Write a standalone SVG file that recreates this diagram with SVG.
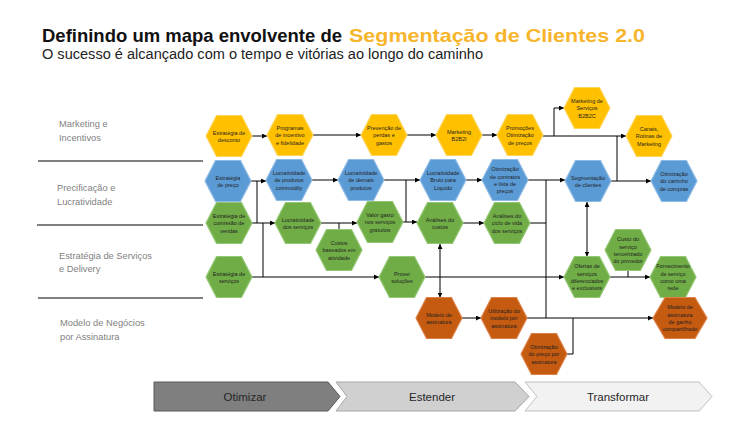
<svg xmlns="http://www.w3.org/2000/svg" xmlns:xlink="http://www.w3.org/1999/xlink" width="750" height="422" viewBox="0 0 750 422">
<style>
.t{font-family:"Liberation Sans",Arial,sans-serif;font-size:5.5px;fill:#1f1f1f;text-anchor:middle}
.lane{font-family:"Liberation Sans",Arial,sans-serif;font-size:9.3px;fill:#7f7f7f}
.y{fill:#FFC000;stroke:#FFD65C;stroke-width:1.2}
.b{fill:#5B9BD5;stroke:#8DBBE6;stroke-width:1.2}
.g{fill:#70AD47;stroke:#95C875;stroke-width:1.2}
.o{fill:#C55A11;stroke:#DE8147;stroke-width:1.2}
.sep{stroke:#808080;stroke-width:2}
.c path{fill:none;stroke:#000;stroke-width:1}
.ar{marker-end:url(#ah)}
.da{marker-start:url(#ah);marker-end:url(#ah)}
.chev{font-family:"Liberation Sans",Arial,sans-serif;font-size:11.5px;fill:#262626;text-anchor:middle}
</style>
<defs>
<polygon id="hex" points="-23,0 -12.5,-20.5 12.5,-20.5 23,0 12.5,20.5 -12.5,20.5"/>
<polygon id="hexw" points="-27,0 -15,-20.5 15,-20.5 27,0 15,20.5 -15,20.5"/>
<marker id="ah" viewBox="0 0 6 6" refX="6" refY="3" markerWidth="5" markerHeight="5" orient="auto-start-reverse" markerUnits="userSpaceOnUse">
<path d="M0,0 L6,3 L0,6 z" fill="#000"/>
</marker>
</defs>
<rect width="750" height="422" fill="#fff"/>

<g id="title">
<text x="42" y="42" font-family="Liberation Sans,Arial,sans-serif" font-size="19" font-weight="bold" fill="#111" textLength="300" lengthAdjust="spacingAndGlyphs">Definindo um mapa envolvente de</text>
<text x="349" y="42" font-family="Liberation Sans,Arial,sans-serif" font-size="19" font-weight="bold" fill="#F7B52C" textLength="296" lengthAdjust="spacingAndGlyphs">Segmentação de Clientes 2.0</text>
<text x="42" y="59" font-family="Liberation Sans,Arial,sans-serif" font-size="14" fill="#222" textLength="441" lengthAdjust="spacingAndGlyphs">O sucesso é alcançado com o tempo e vitórias ao longo do caminho</text>
</g>

<g id="lanes">
<text class="lane" x="59" y="127">Marketing e</text>
<text class="lane" x="59" y="141">Incentivos</text>
<line class="sep" x1="38" y1="161" x2="203" y2="161"/>
<text class="lane" x="57" y="191">Precificação e</text>
<text class="lane" x="57" y="205">Lucratividade</text>
<line class="sep" x1="37" y1="225" x2="203" y2="225"/>
<text class="lane" x="59" y="259">Estratégia de Serviços</text>
<text class="lane" x="59" y="272">e Delivery</text>
<line class="sep" x1="38" y1="298" x2="203" y2="298"/>
<text class="lane" x="60" y="326">Modelo de Negócios</text>
<text class="lane" x="60" y="340">por Assinatura</text>
</g>

<g id="connectors" class="c">
<path class="ar" d="M252,136 H267"/>
<path class="ar" d="M313,135 H361"/>
<path class="ar" d="M407,135 H436"/>
<path class="ar" d="M482,135 H497"/>
<path class="ar" d="M543,136 H626"/>
<path class="ar" d="M554,136 V108 H564"/>
<path class="ar" d="M611,181 H651"/>
<path d="M617,181 V136"/>
<path class="ar" d="M251,181 H266"/>
<path d="M257,181 V223"/>
<path class="ar" d="M252,223 H275"/>
<path d="M263,223 V277"/>
<path class="ar" d="M252,277 H379"/>
<path class="ar" d="M312,180 H338"/>
<path class="ar" d="M384,180 H420"/>
<path d="M406,180 V222"/>
<path class="ar" d="M403,222 H417"/>
<path class="ar" d="M466,180 H482"/>
<path class="ar" d="M528,180 H565"/>
<path d="M546,180 V318"/>
<path d="M530,223 H546"/>
<path class="ar" d="M321,223 H357"/>
<path d="M339,223 V229.5"/>
<path class="ar" d="M463,223 H484"/>
<path class="da" d="M440,244 V297.5"/>
<path class="ar" d="M462,318 H481"/>
<path class="ar" d="M527,318 H653"/>
<path d="M567,354 H573 V318"/>
<path class="ar" d="M425,277 H564"/>
<path class="da" d="M587,202 V256.5"/>
<path class="ar" d="M610,277 H650"/>
<path d="M628,270.5 V277"/>
</g>

<g id="n-desconto"><use xlink:href="#hex" href="#hex" x="229" y="136" class="y"/><text class="t" x="229" y="134.5">Estratégia de<tspan x="229" dy="7.4">desconto</tspan></text></g>
<g id="n-programas"><use href="#hex" x="290" y="135" class="y"/><text class="t" x="290" y="129.8">Programas<tspan x="290" dy="7.4">de incentivo</tspan><tspan x="290" dy="7.4">e fidelidade</tspan></text></g>
<g id="n-prevencao"><use href="#hex" x="384" y="135" class="y"/><text class="t" x="384" y="129.8">Prevenção de<tspan x="384" dy="7.4">perdas e</tspan><tspan x="384" dy="7.4">gastos</tspan></text></g>
<g id="n-b2b2i"><use href="#hex" x="459" y="135" class="y"/><text class="t" x="459" y="133.5">Marketing<tspan x="459" dy="7.4">B2B2I</tspan></text></g>
<g id="n-promocoes"><use href="#hex" x="520" y="135" class="y"/><text class="t" x="520" y="129.8">Promoções<tspan x="520" dy="7.4">Otimização</tspan><tspan x="520" dy="7.4">de preços</tspan></text></g>
<g id="n-b2b2c"><use href="#hex" x="587" y="108" class="y"/><text class="t" x="587" y="102.8">Marketing de<tspan x="587" dy="7.4">Serviços</tspan><tspan x="587" dy="7.4">B2B2C</tspan></text></g>
<g id="n-canais"><use href="#hex" x="649" y="136" class="y"/><text class="t" x="649" y="130.8">Canais,<tspan x="649" dy="7.4">Rotinas de</tspan><tspan x="649" dy="7.4">Marketing</tspan></text></g>

<g id="n-preco"><use href="#hex" x="228" y="181" class="b"/><text class="t" x="228" y="179.5">Estratégia<tspan x="228" dy="7.4">de preço</tspan></text></g>
<g id="n-commodity"><use href="#hex" x="289" y="180" class="b"/><text class="t" x="289" y="174.8">Lucratividade<tspan x="289" dy="7.4">de produtos</tspan><tspan x="289" dy="7.4">commodity</tspan></text></g>
<g id="n-demais"><use href="#hex" x="361" y="180" class="b"/><text class="t" x="361" y="174.8">Lucratividade<tspan x="361" dy="7.4">de demais</tspan><tspan x="361" dy="7.4">produtos</tspan></text></g>
<g id="n-bruto"><use href="#hex" x="443" y="180" class="b"/><text class="t" x="443" y="174.8">Lucratividade<tspan x="443" dy="7.4">Bruto para</tspan><tspan x="443" dy="7.4">Líquido</tspan></text></g>
<g id="n-contratos"><use href="#hex" x="505" y="180" class="b"/><text class="t" x="505" y="171.1">Otimização<tspan x="505" dy="7.4">de contratos</tspan><tspan x="505" dy="7.4">e lista de</tspan><tspan x="505" dy="7.4">preços</tspan></text></g>
<g id="n-segmentacao"><use href="#hex" x="588" y="181" class="b"/><text class="t" x="588" y="179.5">Segmentação<tspan x="588" dy="7.4">de clientes</tspan></text></g>
<g id="n-carrinho"><use href="#hex" x="674" y="181" class="b"/><text class="t" x="674" y="175.8">Otimização<tspan x="674" dy="7.4">do carrinho</tspan><tspan x="674" dy="7.4">de compras</tspan></text></g>

<g id="n-comissao"><use href="#hex" x="229" y="223" class="g"/><text class="t" x="229" y="217.8">Estratégia de<tspan x="229" dy="7.4">comissão de</tspan><tspan x="229" dy="7.4">vendas</tspan></text></g>
<g id="n-lucserv"><use href="#hex" x="298" y="223" class="g"/><text class="t" x="298" y="221.5">Lucratividade<tspan x="298" dy="7.4">dos serviços</tspan></text></g>
<g id="n-custosab"><use href="#hex" x="339" y="250" class="g"/><text class="t" x="339" y="244.8">Custos<tspan x="339" dy="7.4">baseados em</tspan><tspan x="339" dy="7.4">atividade</tspan></text></g>
<g id="n-valor"><use href="#hex" x="380" y="222" class="g"/><text class="t" x="380" y="216.8">Valor gasto<tspan x="380" dy="7.4">nos serviços</tspan><tspan x="380" dy="7.4">gratuitos</tspan></text></g>
<g id="n-analcustos"><use href="#hex" x="440" y="223" class="g"/><text class="t" x="440" y="221.5">Análises do<tspan x="440" dy="7.4">custos</tspan></text></g>
<g id="n-ciclo"><use href="#hex" x="507" y="223" class="g"/><text class="t" x="507" y="217.8">Análises do<tspan x="507" dy="7.4">ciclo de vida</tspan><tspan x="507" dy="7.4">dos serviços</tspan></text></g>
<g id="n-estserv"><use href="#hex" x="229" y="277" class="g"/><text class="t" x="229" y="275.5">Estratégia de<tspan x="229" dy="7.4">serviços</tspan></text></g>
<g id="n-prover"><use href="#hex" x="402" y="277" class="g"/><text class="t" x="402" y="275.5">Prover<tspan x="402" dy="7.4">soluções</tspan></text></g>
<g id="n-terceirizado"><use href="#hex" x="628" y="250" class="g"/><text class="t" x="628" y="241.1">Custo do<tspan x="628" dy="7.4">serviço</tspan><tspan x="628" dy="7.4">terceirizado</tspan><tspan x="628" dy="7.4">do provedor</tspan></text></g>
<g id="n-ofertas"><use href="#hex" x="587" y="277" class="g"/><text class="t" x="587" y="268.1">Ofertas de<tspan x="587" dy="7.4">serviços</tspan><tspan x="587" dy="7.4">diferenciados</tspan><tspan x="587" dy="7.4">e exclusivos</tspan></text></g>
<g id="n-rede"><use href="#hex" x="673" y="277" class="g"/><text class="t" x="673" y="268.1">Fornecimento<tspan x="673" dy="7.4">de serviço</tspan><tspan x="673" dy="7.4">como uma</tspan><tspan x="673" dy="7.4">rede</tspan></text></g>

<g id="n-modelo"><use href="#hex" x="439" y="318" class="o"/><text class="t" x="439" y="316.5">Modelo de<tspan x="439" dy="7.4">assinatura</tspan></text></g>
<g id="n-utilizacao"><use href="#hex" x="504" y="318" class="o"/><text class="t" x="504" y="312.8">Utilização do<tspan x="504" dy="7.4">modelo por</tspan><tspan x="504" dy="7.4">assinatura</tspan></text></g>
<g id="n-otimpreco"><use href="#hex" x="544" y="354" class="o"/><text class="t" x="544" y="348.8">Otimização<tspan x="544" dy="7.4">do preço por</tspan><tspan x="544" dy="7.4">assinatura</tspan></text></g>
<g id="n-ganho"><use href="#hexw" x="680" y="318" class="o"/><text class="t" x="680" y="309.1">Modelo de<tspan x="680" dy="7.4">assinatura</tspan><tspan x="680" dy="7.4">de ganho</tspan><tspan x="680" dy="7.4">compartilhado</tspan></text></g>

<g id="phases">
<g id="p-otimizar"><polygon points="154,382 328,382 340,396.5 328,411 154,411" fill="#7F7F7F" stroke="#595959" stroke-width="1"/><text class="chev" x="245" y="400.5">Otimizar</text></g>
<g id="p-estender"><polygon points="336,382 515,382 529,396.5 515,411 336,411 347,396.5" fill="#D0D0D0" stroke="#A6A6A6" stroke-width="1"/><text class="chev" x="432" y="400.5">Estender</text></g>
<g id="p-transformar"><polygon points="525,382 699,382 712,396.5 699,411 525,411 537,396.5" fill="#F2F2F2" stroke="#BFBFBF" stroke-width="1"/><text class="chev" x="618" y="400.5">Transformar</text></g>
</g>
</svg>
